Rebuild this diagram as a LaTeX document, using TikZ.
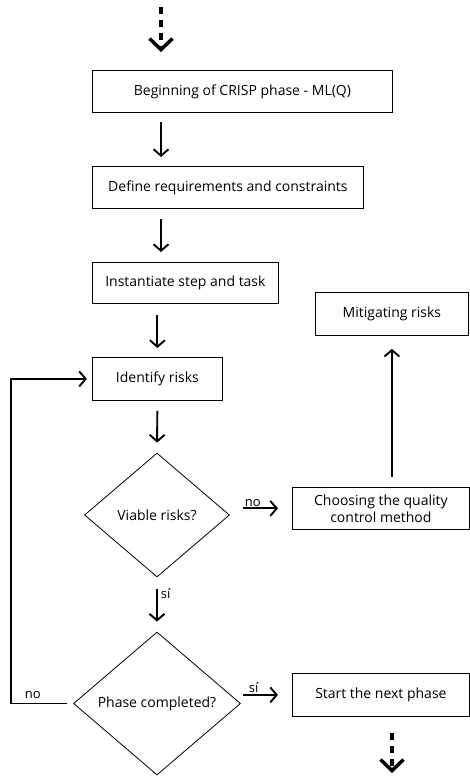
\documentclass[tikz,border=0pt]{standalone}
\usepackage{fontspec}
\setmainfont{Open Sans}
\usetikzlibrary{positioning,arrows.meta,calc,shapes.geometric}
\tikzset{
  stepbox/.style={rectangle, draw=black, line width=0.8pt, inner sep=2pt,
                  anchor=north west, align=center, font=\fontsize{14}{17}\selectfont},
  ask/.style={diamond, draw=black, line width=0.8pt, inner sep=0pt, align=center,
              font=\fontsize{14}{17}\selectfont},
  flow/.style={-{Straight Barb[length=6.5pt,width=15pt]}, draw=black, line width=1.9pt},
  dashflow/.style={-{Straight Barb[length=11pt,width=23pt,line width=3.5pt]}, draw=black,
                   line width=4pt, dash pattern=on 7pt off 6pt},
  lbl/.style={font=\fontsize{13}{15}\selectfont, inner sep=1pt},
}
\begin{document}
\begin{tikzpicture}[x=1pt, y=-1pt]
  \useasboundingbox (0,0) rectangle (470,776);
  % main column
  \node[stepbox, minimum width=300pt, minimum height=42pt] (crisp) at (92,70)
    {Beginning of CRISP phase - ML(Q)};
  \node[stepbox, minimum width=271pt, minimum height=42pt] (reqs) at (92,166)
    {Define requirements and constraints};
  \node[stepbox, minimum width=186pt, minimum height=41pt] (inst) at (92,262)
    {Instantiate step and task};
  \node[stepbox, minimum width=130pt, minimum height=43pt] (ident) at (92,357)
    {Identify risks};
  \node[ask, minimum width=145pt, minimum height=124pt] (viable) at (157,515)
    {Viable risks?};
  \node[ask, minimum width=167pt, minimum height=143pt] (phase) at (157,703.5)
    {Phase completed?};
  % right column
  \node[stepbox, minimum width=153pt, minimum height=43pt] (mitig) at (315,292)
    {Mitigating risks};
  \node[stepbox, minimum width=177pt, minimum height=42pt] (choose) at (292,487)
    {Choosing the quality\\control method};
  \node[stepbox, minimum width=177pt, minimum height=43pt] (next) at (292,673)
    {Start the next phase};
  \coordinate (entry) at (161,7);
  \coordinate (col) at (161,0);
  \coordinate (exit) at (392,773);
  % connectors
  \draw[dashflow, shorten >=18pt] (entry) -- (crisp.north -| entry);
  \draw[flow, shorten <=9pt, shorten >=9pt] (crisp.south -| col) -- (reqs.north -| col);
  \draw[flow, shorten <=10pt, shorten >=10pt] (reqs.south -| col) -- (inst.north -| col);
  \draw[flow, shorten <=11pt, shorten >=9pt] (inst.south -| ident) -- (ident.north);
  \draw[flow, shorten <=10pt, shorten >=10pt] (ident.south) -- (viable.north);
  \draw[flow, shorten <=13pt, shorten >=14pt] (viable.east |- choose.west) --
    node[lbl, above, pos=0.37] {no} (choose.west);
  \draw[flow, shorten <=10pt, shorten >=13pt] (choose.north -| mitig) -- (mitig.south);
  \draw[flow, shorten <=12pt, shorten >=10pt] (viable.south) --
    node[lbl, right, pos=0.3, xshift=2pt] {sí} (phase.north);
  \draw[flow, shorten <=2pt, shorten >=14pt] (phase.east |- next.west) --
    node[lbl, above, pos=0.25] {sí} (next.west);
  \draw[flow, shorten <=6pt, shorten >=5pt] (phase.west) --
    node[lbl, above, pos=0.65, yshift=3pt] {no} ++(-62,0) |- (ident.west);
  \draw[dashflow, shorten <=16pt] (next.south -| exit) -- (exit);
\end{tikzpicture}
\end{document}
